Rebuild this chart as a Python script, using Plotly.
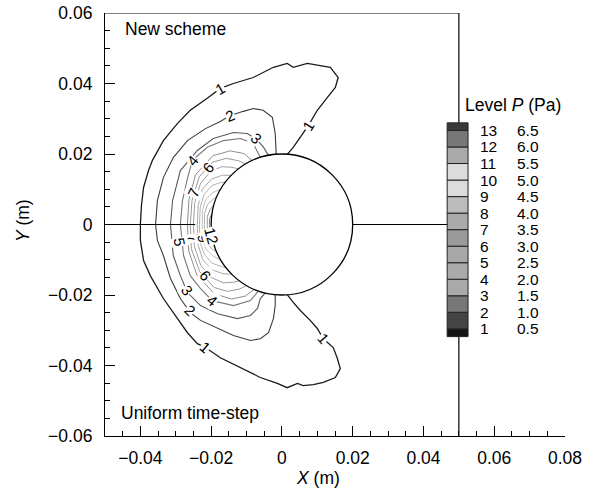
import math
import plotly.graph_objects as go

FONT = "Liberation Sans, Arial, Helvetica, sans-serif"

# ---------------- legend data ----------------
LEVEL_IDS = [1, 2, 3, 4, 5, 6, 7, 8, 9, 10, 11, 12, 13]
LEVEL_P = [0.5, 1.0, 1.5, 2.0, 2.5, 3.0, 3.5, 4.0, 4.5, 5.0, 5.5, 6.0, 6.5]
BAND_COLORS = ["#151515", "#444444", "#777777", "#aaaaaa", "#aaaaaa", "#a8a8a8",
               "#9a9a9a", "#aaaaaa", "#bbbbbb", "#dcdcdc", "#dcdcdc", "#aaaaaa",
               "#777777", "#3a3a3a"]
LINE_COLORS = ["#1a1a1a", "#3c3c3c", "#5a5a5a", "#787878", "#8e8e8e", "#9a9a9a",
               "#a0a0a0", "#a8a8a8", "#b4b4b4", "#bebebe", "#b0b0b0", "#989898",
               "#808080"]

X_TICKS = [-0.04, -0.02, 0.0, 0.02, 0.04, 0.06, 0.08]
X_TICK_LABELS = ["\u22120.04", "\u22120.02", "0", "0.02", "0.04", "0.06", "0.08"]
Y_TICKS = [-0.06, -0.04, -0.02, 0.0, 0.02, 0.04, 0.06]
Y_TICK_LABELS = ["\u22120.06", "\u22120.04", "\u22120.02", "0", "0.02", "0.04", "0.06"]

CYL_R = 0.02

# ---------------- contour lines, upper half ("New scheme") ----------------
L1_UP_X = [-0.0400, -0.0397, -0.0391, -0.0377, -0.0366, -0.0335, -0.0295, -0.0259, -0.0211,
           -0.0174, -0.0137, -0.0081, -0.0024, 0.0015, 0.0032, 0.0072, 0.0108, 0.0137,
           0.0159, 0.0151, 0.0128, 0.0100, 0.0075, 0.0052, 0.0032, 0.0015]
L1_UP_Y = [0.0000, 0.0054, 0.0105, 0.0153, 0.0182, 0.0238, 0.0287, 0.0324, 0.0358,
           0.0386, 0.0400, 0.0417, 0.0446, 0.0457, 0.0446, 0.0457, 0.0451, 0.0446,
           0.0417, 0.0389, 0.0360, 0.0324, 0.0281, 0.0247, 0.0219, 0.0199]
L2_UP_X = [-0.0357, -0.0352, -0.0335, -0.0307, -0.0267, -0.0216, -0.0174, -0.0146, -0.0109,
           -0.0081, -0.0053, -0.0027, -0.0019, -0.0016]
L2_UP_Y = [0.0000, 0.0068, 0.0133, 0.0190, 0.0238, 0.0272, 0.0292, 0.0309, 0.0321,
           0.0329, 0.0324, 0.0304, 0.0258, 0.0199]
L3_UP_X = [-0.0315, -0.0309, -0.0287, -0.0239, -0.0194, -0.0137, -0.0098, -0.0075, -0.0053, -0.0038]
L3_UP_Y = [0.0000, 0.0068, 0.0153, 0.0210, 0.0244, 0.0261, 0.0258, 0.0244, 0.0221, 0.0196]
L4_UP_X = [-0.0287, -0.0281, -0.0267, -0.0253, -0.0211, -0.0165, -0.0117, -0.0081, -0.0061]
L4_UP_Y = [0.0000, 0.0068, 0.0131, 0.0182, 0.0219, 0.0238, 0.0244, 0.0230, 0.0190]

# ---------------- contour lines, lower half ("Uniform time-step") ----------------
L1_LO_X = [-0.0400, -0.0400, -0.0391, -0.0372, -0.0335, -0.0295, -0.0267, -0.0239, -0.0216,
           -0.0174, -0.0117, -0.0061, -0.0013, 0.0015, 0.0044, 0.0060, 0.0089, 0.0117,
           0.0151, 0.0165, 0.0156, 0.0145, 0.0117, 0.0100, 0.0080, 0.0052, 0.0032, 0.0015]
L1_LO_Y = [0.0000, -0.0045, -0.0102, -0.0145, -0.0210, -0.0267, -0.0307, -0.0338, -0.0349,
           -0.0378, -0.0406, -0.0434, -0.0451, -0.0463, -0.0451, -0.0457, -0.0454, -0.0448,
           -0.0434, -0.0409, -0.0378, -0.0349, -0.0324, -0.0295, -0.0272, -0.0244, -0.0221, -0.0199]
L2_LO_X = [-0.0357, -0.0352, -0.0335, -0.0315, -0.0287, -0.0259, -0.0230, -0.0182, -0.0137,
           -0.0089, -0.0061, -0.0038, -0.0024, -0.0019, -0.0019]
L2_LO_Y = [0.0000, -0.0045, -0.0088, -0.0153, -0.0210, -0.0250, -0.0272, -0.0295, -0.0315,
           -0.0329, -0.0324, -0.0307, -0.0267, -0.0230, -0.0199]
L3_LO_X = [-0.0315, -0.0307, -0.0287, -0.0267, -0.0230, -0.0182, -0.0126, -0.0089, -0.0069, -0.0061, -0.0047]
L3_LO_Y = [0.0000, -0.0088, -0.0145, -0.0193, -0.0230, -0.0253, -0.0267, -0.0258, -0.0238, -0.0210, -0.0194]
L4_LO_X = [-0.0287, -0.0278, -0.0259, -0.0230, -0.0197, -0.0137, -0.0089, -0.0067]
L4_LO_Y = [0.0000, -0.0088, -0.0145, -0.0182, -0.0216, -0.0230, -0.0216, -0.0189]

# inner levels 5..13 near the front stagnation point, polar form (deg, m) about cylinder centre
INNER_UP_THETA = [
    [180, 165, 150, 135, 125, 118, 115],
    [180, 165, 150, 138, 130, 124, 121],
    [180, 166, 153, 143, 136, 131, 128],
    [180, 167, 156, 147, 140, 136],
    [180, 168, 159, 151, 146, 143],
    [180, 170, 162, 155, 150],
    [180, 172, 165, 160, 157],
    [180, 174, 168, 164],
    [180, 175, 171],
]
INNER_UP_R = [
    [0.0267, 0.0272, 0.0282, 0.0276, 0.0255, 0.0228, 0.0200],
    [0.0259, 0.0263, 0.0270, 0.0264, 0.0245, 0.0218, 0.0200],
    [0.0250, 0.0254, 0.0258, 0.0251, 0.0236, 0.0215, 0.0200],
    [0.0239, 0.0243, 0.0246, 0.0237, 0.0218, 0.0200],
    [0.0233, 0.0236, 0.0236, 0.0227, 0.0212, 0.0200],
    [0.0225, 0.0228, 0.0227, 0.0215, 0.0200],
    [0.0219, 0.0221, 0.0218, 0.0208, 0.0200],
    [0.0211, 0.0212, 0.0207, 0.0200],
    [0.0205, 0.0205, 0.0200],
]
INNER_LO_THETA = [
    [180, 196, 211, 226, 236, 243, 247],
    [180, 195, 210, 223, 231, 237, 240],
    [180, 194, 207, 217, 225, 230, 233],
    [180, 193, 204, 213, 220, 225],
    [180, 192, 201, 209, 214, 218],
    [180, 190, 198, 205, 210],
    [180, 188, 195, 200, 203],
    [180, 186, 192, 196],
    [180, 185, 189],
]
INNER_LO_R = [
    [0.0267, 0.0274, 0.0280, 0.0274, 0.0255, 0.0228, 0.0200],
    [0.0259, 0.0265, 0.0268, 0.0262, 0.0244, 0.0218, 0.0200],
    [0.0250, 0.0255, 0.0257, 0.0250, 0.0234, 0.0214, 0.0200],
    [0.0239, 0.0244, 0.0245, 0.0236, 0.0217, 0.0200],
    [0.0233, 0.0237, 0.0235, 0.0226, 0.0211, 0.0200],
    [0.0225, 0.0228, 0.0226, 0.0214, 0.0200],
    [0.0219, 0.0221, 0.0217, 0.0208, 0.0200],
    [0.0211, 0.0212, 0.0207, 0.0200],
    [0.0205, 0.0205, 0.0200],
]

# contour labels
CLAB_TEXT = ["1", "1", "2", "3", "4", "6", "7", "5", "7", "9", "12",
             "6", "3", "4", "2", "1", "1"]
CLAB_X = [-0.0174, 0.0075, -0.0146, -0.0072, -0.0253, -0.0208, -0.0250, -0.0289, -0.0250, -0.0222, -0.0200,
          -0.0216, -0.0267, -0.0197, -0.0259, -0.0216, 0.0117]
CLAB_Y = [0.0386, 0.0281, 0.0309, 0.0244, 0.0182, 0.0162, 0.0091, -0.0048, -0.0040, -0.0040, -0.0032,
          -0.0145, -0.0187, -0.0216, -0.0244, -0.0349, -0.0324]
CLAB_ANGLE = [-30, -58, -22, 45, -50, -50, -65, 80, 80, 80, 75,
              50, 55, 40, 45, 40, 50]

fig = go.Figure()


def add_line(xs, ys, color, width):
    fig.add_trace(go.Scatter(x=xs, y=ys, mode="lines", line=dict(color=color, width=width),
                             hoverinfo="skip", showlegend=False))


# inner levels (draw first, lighter)
for i in range(len(INNER_UP_THETA)):
    col = LINE_COLORS[4 + i]
    for th, rr in ((INNER_UP_THETA[i], INNER_UP_R[i]), (INNER_LO_THETA[i], INNER_LO_R[i])):
        xs = [r * math.cos(math.radians(t)) for t, r in zip(th, rr)]
        ys = [r * math.sin(math.radians(t)) for t, r in zip(th, rr)]
        add_line(xs, ys, col, 1.0)

outer = [
    (L4_UP_X, L4_UP_Y, 3), (L4_LO_X, L4_LO_Y, 3),
    (L3_UP_X, L3_UP_Y, 2), (L3_LO_X, L3_LO_Y, 2),
    (L2_UP_X, L2_UP_Y, 1), (L2_LO_X, L2_LO_Y, 1),
    (L1_UP_X, L1_UP_Y, 0), (L1_LO_X, L1_LO_Y, 0),
]
for xs, ys, k in outer:
    add_line(xs, ys, LINE_COLORS[k], 1.3 if k == 0 else 1.1)

shapes = []
LINE = dict(color="black", width=1.2)
# domain boundary lines
shapes.append(dict(type="line", xref="x", yref="y", x0=-0.05, y0=0.06, x1=0.05, y1=0.06, line=LINE))
shapes.append(dict(type="line", xref="x", yref="y", x0=0.05, y0=0.06, x1=0.05, y1=-0.06, line=LINE))
shapes.append(dict(type="line", xref="x", yref="y", x0=-0.05, y0=0, x1=-0.0245, y1=0, line=LINE))
shapes.append(dict(type="line", xref="x", yref="y", x0=CYL_R, y0=0, x1=0.05, y1=0, line=LINE))
# cylinder
shapes.append(dict(type="circle", xref="x", yref="y", x0=-CYL_R, y0=-CYL_R, x1=CYL_R, y1=CYL_R,
                   line=dict(color="black", width=1.3), fillcolor="white"))

# legend bands
LEG_X0, LEG_X1 = 0.0467, 0.0526
leg_y1, leg_y13 = -0.0296, 0.02668
step = (leg_y13 - leg_y1) / 12.0
level_y = [leg_y1 + i * step for i in range(13)]
edges = [leg_y1 - 0.47 * step] + level_y + [leg_y13 + 0.46 * step]
for b in range(14):
    shapes.append(dict(type="rect", xref="x", yref="y", x0=LEG_X0, x1=LEG_X1,
                       y0=edges[b], y1=edges[b + 1], fillcolor=BAND_COLORS[b],
                       line=dict(color="#222222", width=1)))

LEG_FS = 15.5
annotations = []
for lid, p, y in zip(LEVEL_IDS, LEVEL_P, level_y):
    annotations.append(dict(x=0.0553, y=y, xref="x", yref="y", text=str(lid), showarrow=False,
                            xanchor="left", yanchor="middle", font=dict(size=LEG_FS, color="black", family=FONT)))
    annotations.append(dict(x=0.0658, y=y, xref="x", yref="y", text=f"{p:.1f}", showarrow=False,
                            xanchor="left", yanchor="middle", font=dict(size=LEG_FS, color="black", family=FONT)))
annotations.append(dict(x=0.0513, y=0.0338, xref="x", yref="y", text="Level <i>P</i> (Pa)", showarrow=False,
                        xanchor="left", yanchor="middle", font=dict(size=17.5, color="black", family=FONT)))

for t, x, y, a in zip(CLAB_TEXT, CLAB_X, CLAB_Y, CLAB_ANGLE):
    annotations.append(dict(x=x, y=y, xref="x", yref="y", text=t, showarrow=False, textangle=a,
                            bgcolor="white", borderpad=0,
                            font=dict(size=15, color="black", family=FONT)))

annotations.append(dict(x=-0.0449, y=0.0556, xref="x", yref="y", text="New scheme", showarrow=False,
                        xanchor="left", yanchor="middle", font=dict(size=17.5, color="black", family=FONT)))
annotations.append(dict(x=-0.0460, y=-0.0534, xref="x", yref="y", text="Uniform time-step", showarrow=False,
                        xanchor="left", yanchor="middle", font=dict(size=17.5, color="black", family=FONT)))
annotations.append(dict(x=0.0101, y=-0.099, xref="x", yref="paper", text="<i>X</i> (m)", showarrow=False,
                        xanchor="center", yanchor="middle", font=dict(size=17.5, color="black", family=FONT)))
annotations.append(dict(x=-0.178, y=0.001, xref="paper", yref="y", text="<i>Y</i> (m)", showarrow=False,
                        textangle=-90, xanchor="center", yanchor="middle",
                        font=dict(size=17.5, color="black", family=FONT)))

fig.update_layout(
    width=595, height=493,
    margin=dict(l=105, r=30, t=13, b=57, autoexpand=False),
    paper_bgcolor="white", plot_bgcolor="white",
    font=dict(family=FONT, size=17.5, color="black"),
    shapes=shapes, annotations=annotations,
    xaxis=dict(range=[-0.05, 0.08], tickmode="array", tickvals=X_TICKS, ticktext=X_TICK_LABELS,
               showgrid=False, zeroline=False, showline=True, linecolor="black", linewidth=1.2,
               ticks="inside", ticklen=10, tickcolor="black", tickwidth=1.2, automargin=False,
               minor=dict(dtick=0.005, tick0=0, ticks="inside", ticklen=5, tickcolor="black", tickwidth=1.2),
               ticklabelstandoff=6, layer="above traces"),
    yaxis=dict(range=[-0.06, 0.06], tickmode="array", tickvals=Y_TICKS, ticktext=Y_TICK_LABELS,
               showgrid=False, zeroline=False, showline=True, linecolor="black", linewidth=1.2,
               ticks="inside", ticklen=10, tickcolor="black", tickwidth=1.2, automargin=False,
               minor=dict(dtick=0.005, tick0=0, ticks="inside", ticklen=5, tickcolor="black", tickwidth=1.2),
               ticklabelstandoff=8),
)

fig.write_html("out.html")
